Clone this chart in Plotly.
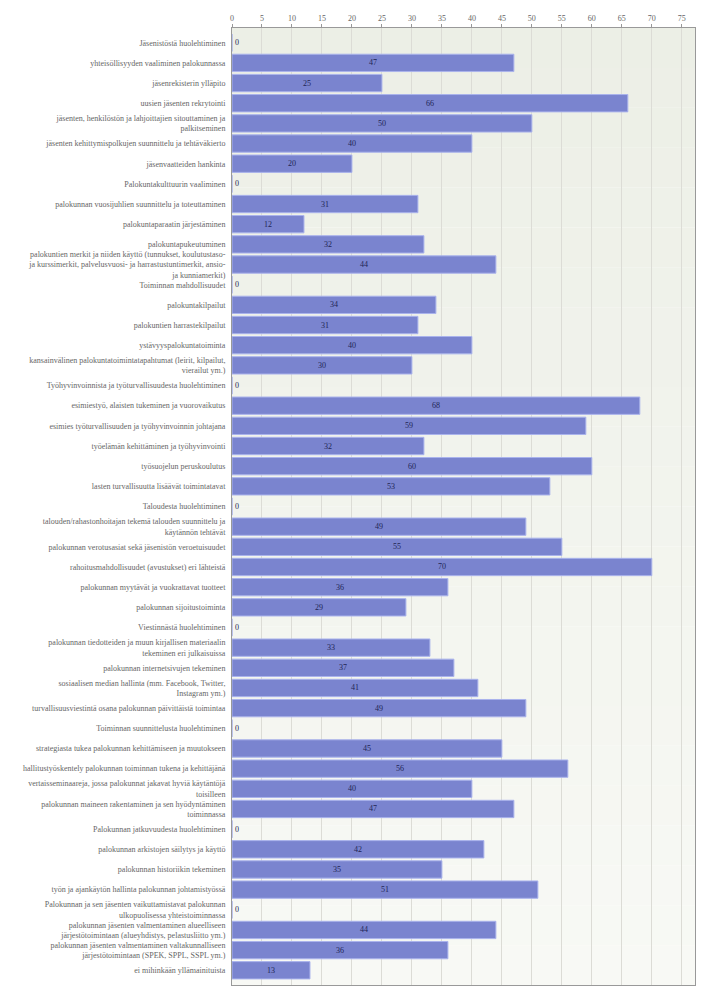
import plotly.graph_objects as go

categories = [
    "Jäsenistöstä huolehtiminen",
    "yhteisöllisyyden vaaliminen palokunnassa",
    "jäsenrekisterin ylläpito",
    "uusien jäsenten rekrytointi",
    "jäsenten, henkilöstön ja lahjoittajien sitouttaminen ja<br>palkitseminen",
    "jäsenten kehittymispolkujen suunnittelu ja tehtäväkierto",
    "jäsenvaatteiden hankinta",
    "Palokuntakulttuurin vaaliminen",
    "palokunnan vuosijuhlien suunnittelu ja toteuttaminen",
    "palokuntaparaatin järjestäminen",
    "palokuntapukeutuminen",
    "palokuntien merkit ja niiden käyttö (tunnukset, koulutustaso-<br>ja kurssimerkit, palvelusvuosi- ja harrastustuntimerkit, ansio-<br>ja kunniamerkit)",
    "Toiminnan mahdollisuudet",
    "palokuntakilpailut",
    "palokuntien harrastekilpailut",
    "ystävyyspalokuntatoiminta",
    "kansainvälinen palokuntatoimintatapahtumat (leirit, kilpailut,<br>vierailut ym.)",
    "Työhyvinvoinnista ja työturvallisuudesta huolehtiminen",
    "esimiestyö, alaisten tukeminen ja vuorovaikutus",
    "esimies työturvallisuuden ja työhyvinvoinnin johtajana",
    "työelämän kehittäminen ja työhyvinvointi",
    "työsuojelun peruskoulutus",
    "lasten turvallisuutta lisäävät toimintatavat",
    "Taloudesta huolehtiminen",
    "talouden/rahastonhoitajan tekemä talouden suunnittelu ja<br>käytännön tehtävät",
    "palokunnan verotusasiat sekä jäsenistön veroetuisuudet",
    "rahoitusmahdollisuudet (avustukset) eri lähteistä",
    "palokunnan myytävät ja vuokrattavat tuotteet",
    "palokunnan sijoitustoiminta",
    "Viestinnästä huolehtiminen",
    "palokunnan tiedotteiden ja muun kirjallisen materiaalin<br>tekeminen eri julkaisuissa",
    "palokunnan internetsivujen tekeminen",
    "sosiaalisen median hallinta (mm. Facebook, Twitter,<br>Instagram ym.)",
    "turvallisuusviestintä osana palokunnan päivittäistä toimintaa",
    "Toiminnan suunnittelusta huolehtiminen",
    "strategiasta tukea palokunnan kehittämiseen ja muutokseen",
    "hallitustyöskentely palokunnan toiminnan tukena ja kehittäjänä",
    "vertaisseminaareja, jossa palokunnat jakavat hyviä käytäntöjä<br>toisilleen",
    "palokunnan maineen rakentaminen ja sen hyödyntäminen<br>toiminnassa",
    "Palokunnan jatkuvuudesta huolehtiminen",
    "palokunnan arkistojen säilytys ja käyttö",
    "palokunnan historiikin tekeminen",
    "työn ja ajankäytön hallinta palokunnan johtamistyössä",
    "Palokunnan ja sen jäsenten vaikuttamistavat palokunnan<br>ulkopuolisessa yhteistoiminnassa",
    "palokunnan jäsenten valmentaminen alueelliseen<br>järjestötoimintaan (alueyhdistys, pelastusliitto ym.)",
    "palokunnan jäsenten valmentaminen valtakunnalliseen<br>järjestötoimintaan (SPEK, SPPL, SSPL ym.)",
    "ei mihinkään yllämainituista",
]

values = [0, 47, 25, 66, 50, 40, 20, 0, 31, 12, 32, 44, 0, 34, 31, 40, 30,
          0, 68, 59, 32, 60, 53, 0, 49, 55, 70, 36, 29, 0, 33, 37, 41, 49,
          0, 45, 56, 40, 47, 0, 42, 35, 51, 0, 44, 36, 13]

tick_vals = list(range(0, 80, 5))

SERIF = "Liberation Serif, Times New Roman, serif"

n = len(categories)
ypos = list(range(n))

fig = go.Figure()

# background gradient bands
bands = 24
for i in range(bands):
    t = i / (bands - 1)
    r = int(round(236 + (248 - 236) * t))
    g = int(round(239 + (249 - 239) * t))
    b = int(round(230 + (245 - 230) * t))
    fig.add_shape(type="rect", xref="paper", yref="paper",
                  x0=0, x1=1, y0=1 - (i + 1) / bands, y1=1 - i / bands,
                  fillcolor=f"rgb({r},{g},{b})", line_width=0, layer="below")

fig.add_trace(go.Bar(
    x=values,
    y=ypos,
    orientation="h",
    width=0.86,
    marker=dict(color="#7a84cf", line=dict(color="#aab3ec", width=1)),
    text=[str(v) for v in values],
    textposition=["outside" if v == 0 else "inside" for v in values],
    insidetextanchor="middle",
    textfont=dict(family=SERIF, size=8, color="#1f2456"),
    cliponaxis=False,
    hoverinfo="skip",
))

fig.update_layout(
    width=710, height=1000,
    margin=dict(l=232, r=15, t=28, b=15),
    paper_bgcolor="white",
    plot_bgcolor="rgba(0,0,0,0)",
    showlegend=False,
    font=dict(family=SERIF, size=8, color="#666666"),
    bargap=0.1,
)

fig.update_xaxes(
    side="top",
    range=[0, 77.2],
    tickvals=tick_vals,
    ticktext=[str(v) for v in tick_vals],
    showgrid=True, gridcolor="#dcdcd6", gridwidth=1,
    showline=True, linecolor="#999999", linewidth=1, mirror=True,
    ticks="outside", ticklen=3, tickcolor="#999999",
    tickfont=dict(family=SERIF, size=8, color="#666666"),
    zeroline=False,
    automargin=False,
)

fig.update_yaxes(
    range=[n - 1 + 0.73, -0.73],
    tickvals=ypos,
    ticktext=categories,
    showgrid=False,
    showline=True, linecolor="#999999", linewidth=1, mirror=True,
    ticks="", ticklabelstandoff=4,
    tickfont=dict(family=SERIF, size=8, color="#666666"),
    zeroline=False,
    automargin=False,
)

fig.write_html("out.html")
